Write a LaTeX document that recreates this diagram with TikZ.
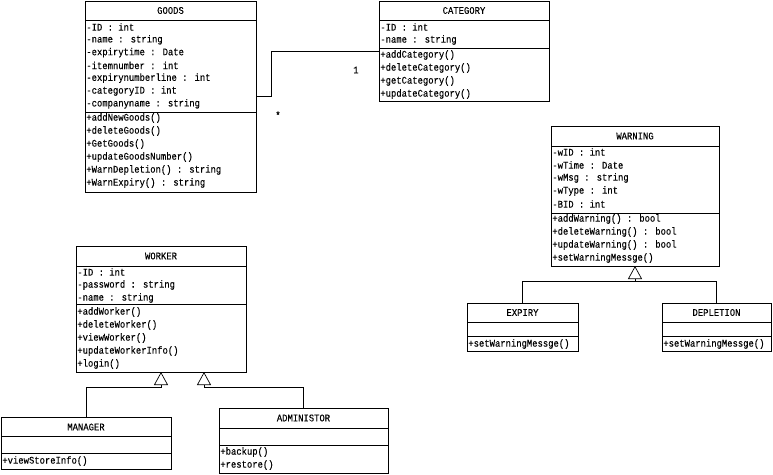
\documentclass[tikz,border=0pt]{standalone}
\usepackage{fontspec}
\newfontfamily\umlfont[FakeStretch=0.87, FakeBold=0.15]{Liberation Mono}
\usetikzlibrary{arrows.meta,calc}

\tikzset{
  cls/.style={draw, anchor=north west, inner sep=0pt, outer sep=0pt},
  row/.style={anchor=west, inner sep=0pt, font=\umlfont\fontsize{10.2}{11}\selectfont},
  ttl/.style={inner sep=0pt, font=\umlfont\fontsize{10.2}{11}\selectfont},
  inherit/.style={-{Triangle[open, length=13pt, width=14pt]}},
}

\begin{document}
\begin{tikzpicture}[x=1pt, y=-1pt, line width=0.7pt]
  \useasboundingbox (0,0) rectangle (773,474);

  % GOODS
  \node[cls, minimum width=171pt, minimum height=191pt] (goods) at (85,1) {};
  \draw (goods.west |- 0,20) -- (goods.east |- 0,20);
  \draw (goods.west |- 0,112) -- (goods.east |- 0,112);
  \node[ttl] (goods-t) at (170.5,10.5) {GOODS};
  \foreach \t [count=\i from 0] in {-ID : int, -name : string, -expirytime : Date,
      -itemnumber : int, -expirynumberline : int, -categoryID : int, -companyname : string}
    \node[row] (goods-a\i) at (86,27+12.8*\i) {\t};
  \foreach \t [count=\i from 0] in {+addNewGoods(), +deleteGoods(), +GetGoods(),
      +updateGoodsNumber(), +WarnDepletion() : string, +WarnExpiry() : string}
    \node[row] (goods-m\i) at (86,118+13*\i) {\t};

  % CATEGORY
  \node[cls, minimum width=170pt, minimum height=100pt] (category) at (379,1) {};
  \draw (category.west |- 0,20) -- (category.east |- 0,20);
  \draw (category.west |- 0,48) -- (category.east |- 0,48);
  \node[ttl] (category-t) at (464,10.5) {CATEGORY};
  \foreach \t [count=\i from 0] in {-ID : int, -name : string}
    \node[row] (category-a\i) at (380,27+13*\i) {\t};
  \foreach \t [count=\i from 0] in {+addCategory(), +deleteCategory(), +getCategory(), +updateCategory()}
    \node[row] (category-m\i) at (380,55+13*\i) {\t};

  \draw (goods.east) -- ++(15,0) |- (category.west);
  \node[ttl] (one) at (356,70) {1};
  \node[ttl] (many) at (278,115) {*};

  % WARNING
  \node[cls, minimum width=168pt, minimum height=140pt] (warning) at (551,126) {};
  \draw (warning.west |- 0,146) -- (warning.east |- 0,146);
  \draw (warning.west |- 0,213) -- (warning.east |- 0,213);
  \node[ttl] (warning-t) at (635,136) {WARNING};
  \foreach \t [count=\i from 0] in {-wID : int, -wTime : Date, -wMsg : string, -wType : int, -BID : int}
    \node[row] (warning-a\i) at (552,152+13*\i) {\t};
  \foreach \t [count=\i from 0] in {+addWarning() : bool, +deleteWarning() : bool,
      +updateWarning() : bool, +setWarningMessge()}
    \node[row] (warning-m\i) at (552,219+13*\i) {\t};

  % EXPIRY, DEPLETION
  \node[cls, minimum width=111pt, minimum height=48pt] (expiry) at (467,303) {};
  \draw (expiry.west |- 0,322) -- (expiry.east |- 0,322);
  \draw (expiry.west |- 0,336) -- (expiry.east |- 0,336);
  \node[ttl] (expiry-t) at (522.5,312.5) {EXPIRY};
  \node[row] (expiry-m0) at (468,344) {+setWarningMessge()};

  \node[cls, minimum width=109pt, minimum height=48pt] (depletion) at (662,303) {};
  \draw (depletion.west |- 0,322) -- (depletion.east |- 0,322);
  \draw (depletion.west |- 0,336) -- (depletion.east |- 0,336);
  \node[ttl] (depletion-t) at (716.5,312.5) {DEPLETION};
  \node[row] (depletion-m0) at (663,344) {+setWarningMessge()};

  \coordinate (wbar) at ($(warning.south)+(0,15)$);
  \draw[inherit] (expiry.north) |- (wbar) -- (warning.south);
  \draw (depletion.north) |- (wbar);

  % WORKER
  \node[cls, minimum width=170pt, minimum height=126pt] (worker) at (76,246) {};
  \draw (worker.west |- 0,266) -- (worker.east |- 0,266);
  \draw (worker.west |- 0,304) -- (worker.east |- 0,304);
  \node[ttl] (worker-t) at (161,256) {WORKER};
  \foreach \t [count=\i from 0] in {-ID : int, -password : string, -name : string}
    \node[row] (worker-a\i) at (77,272+13*\i) {\t};
  \foreach \t [count=\i from 0] in {+addWorker(), +deleteWorker(), +viewWorker(),
      +updateWorkerInfo(), +login()}
    \node[row] (worker-m\i) at (77,312+13*\i) {\t};

  % MANAGER, ADMINISTOR
  \node[cls, minimum width=170pt, minimum height=52pt] (manager) at (1,417) {};
  \draw (manager.west |- 0,436) -- (manager.east |- 0,436);
  \draw (manager.west |- 0,453) -- (manager.east |- 0,453);
  \node[ttl] (manager-t) at (86,427) {MANAGER};
  \node[row] (manager-m0) at (2,461) {+viewStoreInfo()};

  \node[cls, minimum width=169pt, minimum height=65pt] (administor) at (219,408) {};
  \draw (administor.west |- 0,428) -- (administor.east |- 0,428);
  \draw (administor.west |- 0,445) -- (administor.east |- 0,445);
  \node[ttl] (administor-t) at (303.5,418) {ADMINISTOR};
  \node[row] (administor-m0) at (220,452) {+backup()};
  \node[row] (administor-m1) at (220,465) {+restore()};

  \coordinate (wr) at ($(worker.south)+(43,0)$);
  \draw[inherit] (manager.north) |- ($(worker.south)+(0,15)$) -- (worker.south);
  \draw[inherit] (administor.north) |- ($(wr)+(0,15)$) -- (wr);
\end{tikzpicture}
\end{document}
